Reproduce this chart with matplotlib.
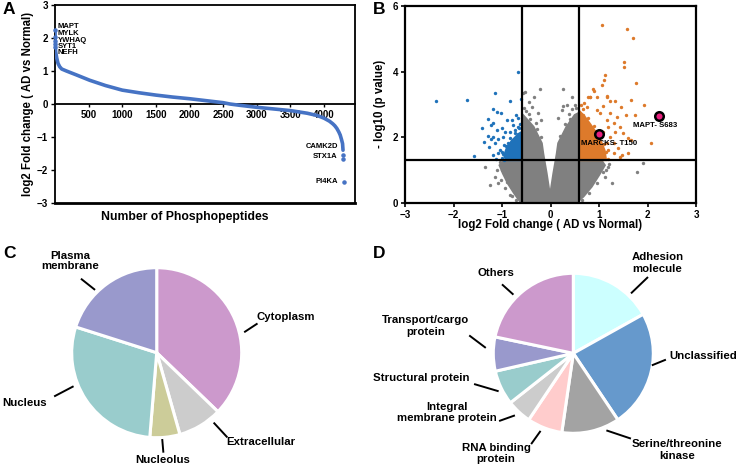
import matplotlib
matplotlib.use("Agg")
import matplotlib.pyplot as plt
from matplotlib.lines import Line2D

plt.rcParams['font.family'] = ['Liberation Sans', 'DejaVu Sans']
plt.rcParams['font.weight'] = 'bold'
plt.rcParams['axes.labelweight'] = 'bold'

# ---------------- Panel A data ----------------
rank = [1, 2, 3, 4, 5, 10, 25, 45, 70, 100, 170, 320, 515, 750, 1000, 1250, 1500,
        1750, 2000, 2250, 2500, 2600, 2750, 3000, 3250, 3500, 3750, 3900, 4000,
        4080, 4130, 4160, 4190, 4220, 4240, 4260, 4275, 4282]
log2fc = [2.23, 2.04, 1.92, 1.83, 1.72, 1.58, 1.40, 1.23, 1.13, 1.06, 1.00, 0.88,
          0.72, 0.56, 0.42, 0.34, 0.27, 0.21, 0.16, 0.10, 0.04, 0.00, -0.04,
          -0.10, -0.15, -0.20, -0.28, -0.35, -0.43, -0.52, -0.60, -0.66, -0.74,
          -0.85, -0.94, -1.08, -1.20, -1.40]
top_names = ["MAPT", "MYLK", "YWHAQ", "SYT1", "NEFH"]
top_rank = [1, 2, 3, 4, 5]
top_fc = [2.23, 2.04, 1.92, 1.83, 1.72]
bot_names = ["CAMK2D", "STX1A", "PI4KA"]
bot_rank = [4285, 4287, 4290]
bot_fc = [-1.55, -1.68, -2.35]
a_xticks = [500, 1000, 1500, 2000, 2500, 3000, 3500, 4000]
a_yticks = [-3, -2, -1, 0, 1, 2, 3]

# ---------------- Panel B data ----------------
gray_x = [-0.216, 0.265, -0.35, -0.45, -0.39, -0.56, 0.44, 0.33, 0.23, -0.25, -0.19,
          0.16, -0.835, -0.90, -1.0, -1.35, -1.25, -1.11, -0.90, -0.86, -0.70, -1.01,
          -0.87, -0.526, 0.25, 1.78, 1.91, 1.26, 1.02, 0.88, 0.75, 1.12,
          -0.50, -0.45, 0.45, 0.52, 0.40, -0.30, -1.15, -1.08, 1.15, 1.20,
          -1.05, -0.95, -1.02, -0.93, -0.80, -0.72, 0.65, 0.80, 0.95, 1.08, 1.18,
          -0.55, -0.42, -0.28, -0.20, 0.20, 0.30, 0.38, 0.50]
gray_y = [3.46, 3.46, 3.24, 3.09, 2.93, 3.36, 3.24, 2.98, 2.83, 2.73, 2.53,
          2.58, 0.24, 0.80, 1.0, 1.11, 0.55, 1.0, 0.65, 0.90, 0.30, 1.21,
          1.41, 3.39, 2.95, 0.95, 1.21, 0.62, 1.11, 0.90, 0.50, 0.80,
          2.80, 2.70, 2.85, 2.90, 2.55, 2.45, 0.80, 0.60, 1.00, 1.20,
          1.25, 1.05, 0.70, 0.45, 0.20, 0.10, 0.10, 0.30, 0.62, 0.95, 1.10,
          2.90, 2.55, 2.25, 2.00, 2.05, 2.40, 2.70, 3.00]
# boundary of the dense grey cloud
gray_dense_x = [-0.62, -0.75, -0.88, -0.98, -1.05, -0.95, -0.58, -0.58, -0.53, -0.35,
                -0.18, -0.15, -0.08, -0.01, 0.06, 0.13, 0.16, 0.33, 0.50, 0.58, 0.58,
                1.05, 1.12, 1.0, 0.85, 0.68, 0.55, 0.0]
gray_dense_y = [0.03, 0.3, 0.6, 0.9, 1.15, 1.3, 1.3, 2.7, 2.62, 2.32,
                1.82, 1.5, 0.9, 0.22, 0.9, 1.5, 1.82, 2.32, 2.68, 2.74, 1.3,
                1.3, 1.15, 0.85, 0.5, 0.2, 0.03, 0.03]
blue_x = [-0.664, -1.144, -0.835, -0.608, -2.37, -1.715, -1.18, -1.11, -1.03, -1.29,
          -1.18, -1.42, -1.22, -0.89, -0.80, -0.71, -0.66, -0.77, -1.11, -1.01, -0.94,
          -1.28, -1.18, -1.08, -0.97, -0.835, -0.73, -0.64, -1.37, -1.26, -1.144,
          -1.04, -0.96, -0.87, -0.77, -1.18, -1.08, -1.01, -0.89, -1.57, -0.80, -0.70,
          -1.12, -0.67, -0.62, -1.23, -0.99,
          -0.95, -0.98, -0.92, -0.83, -0.74, -0.66]
blue_y = [3.98, 3.34, 3.11, 3.18, 3.11, 3.14, 2.86, 2.78, 2.73, 2.55,
          2.43, 2.27, 2.38, 2.53, 2.53, 2.68, 2.58, 2.38, 2.22, 2.27, 2.17,
          2.04, 2.02, 1.94, 2.0, 2.17, 2.22, 2.27, 1.87, 1.70, 1.82,
          1.61, 1.77, 1.82, 1.92, 1.46, 1.51, 1.36, 1.46, 1.44, 1.61, 1.67,
          1.33, 2.10, 2.40, 1.95, 1.55,
          1.32, 1.50, 1.75, 1.98, 2.12, 2.30]
blue_dense_x = [-0.585, -0.92, -0.96, -0.90, -0.80, -0.70, -0.62, -0.585]
blue_dense_y = [1.3, 1.3, 1.45, 1.7, 1.9, 2.05, 2.15, 2.15]
orange_x = [1.07, 1.58, 1.71, 1.52, 1.52, 1.12, 1.10, 1.06, 1.76, 0.876,
            0.78, 0.82, 0.95, 1.16, 1.66, 1.93, 1.74, 1.55, 1.45, 1.33,
            1.23, 1.16, 1.09, 0.90, 0.81, 1.37, 1.23, 1.60, 1.67, 2.07,
            1.60, 1.47, 1.40, 1.30, 1.50, 1.43, 1.30, 1.16, 1.02, 0.95,
            0.75, 0.68, 1.09, 1.23, 1.16, 1.33, 1.19, 1.43, 1.30, 1.19,
            1.18, 1.15, 1.10, 1.00, 0.90, 0.78, 0.68, 0.62, 0.70]
orange_y = [5.41, 5.31, 5.04, 4.28, 4.13, 3.91, 3.75, 3.58, 3.67, 3.46,
            3.23, 3.23, 3.23, 3.25, 3.14, 2.98, 2.68, 2.68, 2.93, 3.11,
            3.11, 3.24, 2.95, 3.40, 3.22, 2.63, 2.73, 1.97, 1.92, 1.82,
            1.51, 1.46, 1.67, 1.82, 2.12, 2.32, 2.43, 2.53, 2.73, 2.83,
            2.93, 2.68, 2.17, 2.02, 1.82, 2.17, 2.32, 1.41, 1.51, 1.61,
            1.35, 1.55, 1.80, 2.05, 2.35, 2.60, 2.85, 3.00, 3.05]
orange_dense_x = [0.585, 1.15, 1.12, 1.04, 0.92, 0.80, 0.70, 0.60, 0.585]
orange_dense_y = [1.3, 1.3, 1.6, 1.9, 2.2, 2.45, 2.65, 2.8, 2.8]
hl_names = ["MAPT- S683", "MARCKS- T150"]
hl_x = [2.24, 0.99]
hl_y = [2.66, 2.09]
fc_cut = 0.585
p_cut = 1.3
b_xticks = [-3, -2, -1, 0, 1, 2, 3]
b_yticks = [0, 2, 4, 6]

# ---------------- Panel C / D data ----------------
c_labels = ["Cytoplasm", "Extracellular", "Nucleolus", "Nucleus", "Plasma\nmembrane"]
c_values = [37.2, 8.4, 5.7, 28.6, 20.1]
c_colors = ["#CC99CC", "#CCCCCC", "#CCCC99", "#99CCCC", "#9999CC"]

d_labels = ["Adhesion\nmolecule", "Unclassified", "Serine/threonine\nkinase",
            "RNA binding\nprotein", "Integral\nmembrane protein", "Structural protein",
            "Transport/cargo\nprotein", "Others"]
d_values = [16.9, 23.7, 11.7, 7.1, 5.0, 7.0, 6.9, 21.7]
d_colors = ["#CCFFFF", "#6699CC", "#A3A3A3", "#FFCCCC", "#CCCCCC", "#99CCCC",
            "#9999CC", "#CC99CC"]

W, H = 738, 468
fig = plt.figure(figsize=(W / 100, H / 100), dpi=100)


def fpos(px, py):
    return px / W, 1 - py / H


def ftext(px, py, s, **kw):
    x, y = fpos(px, py)
    fig.text(x, y, s, **kw)


def fline(p1, p2, lw=1.4):
    x1, y1 = fpos(*p1)
    x2, y2 = fpos(*p2)
    fig.add_artist(Line2D([x1, x2], [y1, y2], transform=fig.transFigure,
                          color="black", lw=lw))


# ---------------- Panel A ----------------
blueA = "#4673C4"
axA = fig.add_axes([55 / W, 1 - 203 / H, 300 / W, 198 / H])
axA.plot(rank, log2fc, color=blueA, lw=2.6, solid_capstyle="round", zorder=3)
axA.scatter(top_rank, top_fc, s=5, color=blueA, zorder=4, clip_on=False)
axA.scatter(bot_rank, bot_fc, s=5, color=blueA, zorder=4)
axA.set_xlim(0, 4460)
axA.set_ylim(-3, 3)
axA.spines["bottom"].set_position(("data", 0))
for s in axA.spines.values():
    s.set_linewidth(1.3)
axA.axhline(-3, color="black", lw=2.0, clip_on=False)
axA.set_xticks(a_xticks)
axA.set_yticks(a_yticks)
axA.tick_params(axis="x", length=2, width=1, labelsize=7, pad=2)
axA.tick_params(axis="y", length=3, width=1, labelsize=7, pad=2)
top_label_y = [2.36, 2.14, 1.93, 1.73, 1.55]
for name, ly in zip(top_names, top_label_y):
    axA.text(43, ly, name, fontsize=5.5, va="center", ha="left")
bot_label_y = [-1.29, -1.58, -2.35]
for name, ly in zip(bot_names, bot_label_y):
    axA.text(4205, ly, name, fontsize=5.5, va="center", ha="right")
ftext(28, 104, "log2 Fold change ( AD vs Normal)", rotation=90, fontsize=8.3,
      ha="center", va="center")
ftext(185, 217, "Number of Phosphopeptides", fontsize=8.8, ha="center", va="center")

# ---------------- Panel B ----------------
gray = "#808080"
blue = "#1F72BA"
orange = "#DD7A2B"
axB = fig.add_axes([405 / W, 1 - 203 / H, 291 / W, 197 / H])
axB.fill(gray_dense_x, gray_dense_y, color=gray, ec=gray, lw=1.5, zorder=1)
axB.scatter(gray_x, gray_y, s=6, color=gray, lw=0, zorder=1)
axB.fill(blue_dense_x, blue_dense_y, color=blue, ec=blue, lw=1.2, zorder=2)
axB.scatter(blue_x, blue_y, s=6, color=blue, lw=0, zorder=2)
axB.fill(orange_dense_x, orange_dense_y, color=orange, ec=orange, lw=1.2, zorder=2)
axB.scatter(orange_x, orange_y, s=6, color=orange, lw=0, zorder=2)
axB.axvline(-fc_cut, color="black", lw=1.6, zorder=3)
axB.axvline(fc_cut, color="black", lw=1.6, zorder=3)
axB.axhline(p_cut, color="black", lw=1.6, zorder=3)
axB.scatter(hl_x, hl_y, s=38, color="#E8207E", edgecolors="black", linewidths=1.8,
            zorder=5)
axB.text(1.70, 2.35, hl_names[0], fontsize=5.6, ha="left", va="center", zorder=6)
axB.text(0.63, 1.80, hl_names[1], fontsize=5.6, ha="left", va="center", zorder=6)
axB.set_xlim(-3, 3)
axB.set_ylim(0, 6)
axB.set_xticks(b_xticks)
axB.set_yticks(b_yticks)
for s in axB.spines.values():
    s.set_linewidth(1.6)
axB.tick_params(length=3, width=1.2, labelsize=7, pad=2)
ftext(380, 104, "- log10 (p value)", rotation=90, fontsize=8.3, ha="center",
      va="center")
ftext(550, 225, "log2 Fold change ( AD vs Normal)", fontsize=8.3, ha="center",
      va="center")

# ---------------- Panel C ----------------
axC = fig.add_axes([0, 0, 370 / W, 238 / H])
cx, cy, rc = 156.7, 352.7, 85.0
axC.pie(c_values, colors=c_colors, startangle=90, counterclock=False, radius=1,
        wedgeprops=dict(edgecolor="white", linewidth=2.2))
axC.set_aspect("auto")
axC.set_xlim(-cx / rc, (370 - cx) / rc)
axC.set_ylim(-(H - cy) / rc, (cy - 230) / rc)

c_text = [(256.7, 317.3, "left"), (226.7, 442.3, "left"), (162.3, 460, "center"),
          (2, 402.7, "left"), (70, 261, "center")]
for lab, (px, py, ha) in zip(c_labels, c_text):
    ftext(px, py, lab, fontsize=8.2, ha=ha, va="center", multialignment="center",
          linespacing=1.05)
c_lead = [((245, 331.7), (256.7, 324)), ((214.3, 423.3), (226.7, 436.7)),
          ((162.3, 440), (163.3, 451.7)), ((55, 396), (72.7, 386.7)),
          ((81.7, 279.3), (94.3, 289.3))]
for p1, p2 in c_lead:
    fline(p1, p2)

# ---------------- Panel D ----------------
axD = fig.add_axes([370 / W, 0, 368 / W, 238 / H])
dx, dy, rd = 573.3, 353.3, 80.0
axD.pie(d_values, colors=d_colors, startangle=90, counterclock=False, radius=1,
        wedgeprops=dict(edgecolor="white", linewidth=2.2))
axD.set_aspect("auto")
axD.set_xlim(-(dx - 370) / rd, (W - dx) / rd)
axD.set_ylim(-(H - dy) / rd, (dy - 230) / rd)

d_text = [(657.3, 263, "center"), (669, 356, "left"), (677.3, 450, "center"),
          (496, 453.3, "center"), (446.7, 412.8, "center"), (421, 378.3, "center"),
          (426, 326, "center"), (496, 272.7, "center")]
for lab, (px, py, ha) in zip(d_labels, d_text):
    ftext(px, py, lab, fontsize=8.2, ha=ha, va="center", multialignment="center",
          linespacing=1.15)
d_lead = [((631.7, 292.7), (647.3, 277.7)), ((652.7, 365), (665, 360)),
          ((607.3, 430.7), (630, 438.3)), ((531.7, 443.3), (540, 431.7)),
          ((500, 420.7), (514, 415.7)), ((475, 384.3), (497.7, 391)),
          ((470, 336), (485, 347.3)), ((502.7, 285), (512.7, 294))]
for p1, p2 in d_lead:
    fline(p1, p2)

# ---------------- Panel letters ----------------
for letter, (px, py) in zip("ABCD", [(9, 10), (379, 10), (9, 254), (379, 254)]):
    ftext(px, py, letter, fontsize=12.5, ha="center", va="center")

fig.savefig("out.png", dpi=100)
